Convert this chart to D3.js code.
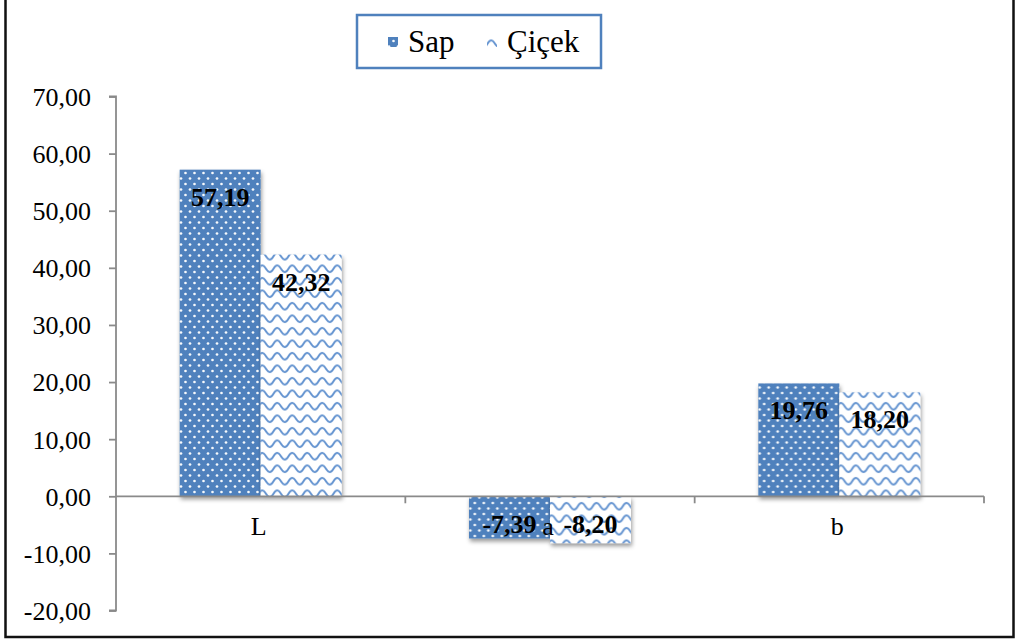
<!DOCTYPE html>
<html>
<head>
<meta charset="utf-8">
<script src="https://cdn.jsdelivr.net/npm/d3@7"></script>
<style>
  html, body { margin: 0; padding: 0; background: #fff; }
  svg { display: block; }
  text { font-family: "Liberation Serif", "Times New Roman", serif; fill: #000; }
</style>
</head>
<body>
<svg id="chart" width="1022" height="644"></svg>
<script>
// Colour measurements (L, a, b) for stem and flower samples
const categories = ["L", "a", "b"];
const seriesNames = ["Sap", "Çiçek"];
const sapValues = [57.19, -7.39, 19.76];
const cicekValues = [42.32, -8.20, 18.20];
const yTicks = [-20, -10, 0, 10, 20, 30, 40, 50, 60, 70];

const rows = categories.map((c, i) => ({ category: c, values: [sapValues[i], cicekValues[i]] }));

const locale = d3.formatLocale({ decimal: ",", thousands: ".", grouping: [3], currency: ["", ""], minus: "-" });
const fmt = locale.format(".2f");

const svg = d3.select("#chart");
const blue = "#4f81bd";

// Fill patterns and bar shadow
const defs = svg.append("defs");

const dots = defs.append("pattern")
  .attr("id", "pat-sap").attr("patternUnits", "userSpaceOnUse")
  .attr("width", 9).attr("height", 11);
dots.append("rect").attr("width", 9).attr("height", 11).attr("fill", blue);
[[2, 2.5], [6.5, 8]].forEach(([cx, cy]) => {
  dots.append("circle").attr("cx", cx).attr("cy", cy).attr("r", 1.35).attr("fill", "#fff").attr("opacity", 0.95);
});

const waves = defs.append("pattern")
  .attr("id", "pat-cicek").attr("patternUnits", "userSpaceOnUse")
  .attr("width", 15).attr("height", 12.5);
waves.append("rect").attr("width", 15).attr("height", 12.5).attr("fill", "#fff");
waves.append("path")
  .attr("d", "M-7.5,6.25 Q-3.75,-0.5 0,6.25 T7.5,6.25 T15,6.25 T22.5,6.25")
  .attr("fill", "none").attr("stroke", "#6393d0").attr("stroke-width", 1.9);

const shadow = defs.append("filter").attr("id", "bar-shadow")
  .attr("x", "-20%").attr("y", "-20%").attr("width", "140%").attr("height", "140%");
shadow.append("feDropShadow")
  .attr("dx", 1).attr("dy", 3).attr("stdDeviation", 2.2)
  .attr("flood-color", "#000").attr("flood-opacity", 0.4);

const fills = ["url(#pat-sap)", "url(#pat-cicek)"];

// Outer frame
svg.append("rect")
  .attr("x", 5.5).attr("y", -2).attr("width", 1008).attr("height", 639)
  .attr("fill", "none").attr("stroke", "#111").attr("stroke-width", 2.5);

// Scales
const plotLeft = 116, plotRight = 984;
const y = d3.scaleLinear().domain([-20, 70]).range([610.5, 96.5]);
const x0 = d3.scaleBand().domain(categories).range([plotLeft, plotRight]).paddingInner(0).paddingOuter(0);
const x1 = d3.scaleBand().domain(seriesNames).range([0, x0.bandwidth()]).paddingInner(0).paddingOuter(0.786);

// Bars
const groups = svg.append("g").selectAll("g")
  .data(rows).join("g")
  .attr("transform", d => `translate(${x0(d.category)},0)`);

groups.selectAll("rect")
  .data(d => d.values.map((v, i) => ({ v, s: seriesNames[i], i })))
  .join("rect")
  .attr("x", d => x1(d.s))
  .attr("width", x1.bandwidth())
  .attr("y", d => y(Math.max(0, d.v)))
  .attr("height", d => Math.abs(y(d.v) - y(0)))
  .attr("fill", d => fills[d.i])
  .attr("filter", "url(#bar-shadow)");

// Y axis
const yAxis = svg.append("g")
  .attr("transform", `translate(${plotLeft},0)`)
  .call(d3.axisLeft(y).tickValues(yTicks).tickSize(7).tickPadding(18).tickFormat(fmt));
yAxis.select(".domain").attr("stroke", "#8a8a8a").attr("stroke-width", 1.8)
  .attr("d", `M-7,${y(70)}H0V${y(-20)}H-7`);
yAxis.selectAll(".tick line").attr("stroke", "#8a8a8a").attr("stroke-width", 1.8);
yAxis.selectAll(".tick text")
  .attr("font-size", 26).attr("font-family", "Liberation Serif, Times New Roman, serif")
  .attr("fill", "#000").attr("dy", "0.34em");

// X axis at zero with boundary tick marks
const xAxisG = svg.append("g").attr("transform", `translate(0,${y(0)})`);
xAxisG.append("line")
  .attr("x1", plotLeft).attr("x2", plotRight)
  .attr("stroke", "#8a8a8a").attr("stroke-width", 1.8);
const boundaries = categories.map(c => x0(c)).concat([x0(categories[categories.length - 1]) + x0.bandwidth()]);
xAxisG.selectAll("line.tick")
  .data(boundaries.slice(1)).join("line").attr("class", "tick")
  .attr("x1", d => d).attr("x2", d => d).attr("y1", 0).attr("y2", 7)
  .attr("stroke", "#8a8a8a").attr("stroke-width", 1.8);

// Category labels
svg.append("g").selectAll("text")
  .data(categories).join("text")
  .attr("x", d => x0(d) + x0.bandwidth() / 2 - 2)
  .attr("y", y(0) + 39)
  .attr("text-anchor", "middle")
  .attr("font-size", 26)
  .text(d => d);

// Value labels
groups.selectAll("text.val")
  .data(d => d.values.map((v, i) => ({ v, s: seriesNames[i] })))
  .join("text").attr("class", "val")
  .attr("x", d => x1(d.s) + x1.bandwidth() / 2)
  .attr("y", d => d.v >= 0 ? y(d.v) + 36 : Math.min(y(d.v) - 5, y(0) + 37))
  .attr("text-anchor", "middle")
  .attr("font-size", 26)
  .attr("font-weight", "bold")
  .text(d => fmt(d.v));

// Legend
const legend = svg.append("g");
legend.append("rect")
  .attr("x", 357).attr("y", 15).attr("width", 244).attr("height", 53)
  .attr("fill", "#fff").attr("stroke", blue).attr("stroke-width", 2.5);
const legendItems = [
  { name: seriesNames[0], fill: fills[0], mx: 388, tx: 408 },
  { name: seriesNames[1], fill: fills[1], mx: 487, tx: 507 }
];
legendItems.forEach(it => {
  legend.append("rect")
    .attr("x", it.mx).attr("y", 37).attr("width", 10).attr("height", 10)
    .attr("fill", it.fill);
  legend.append("text")
    .attr("x", it.tx).attr("y", 52)
    .attr("font-size", 31)
    .text(it.name);
});
</script>
</body>
</html>
